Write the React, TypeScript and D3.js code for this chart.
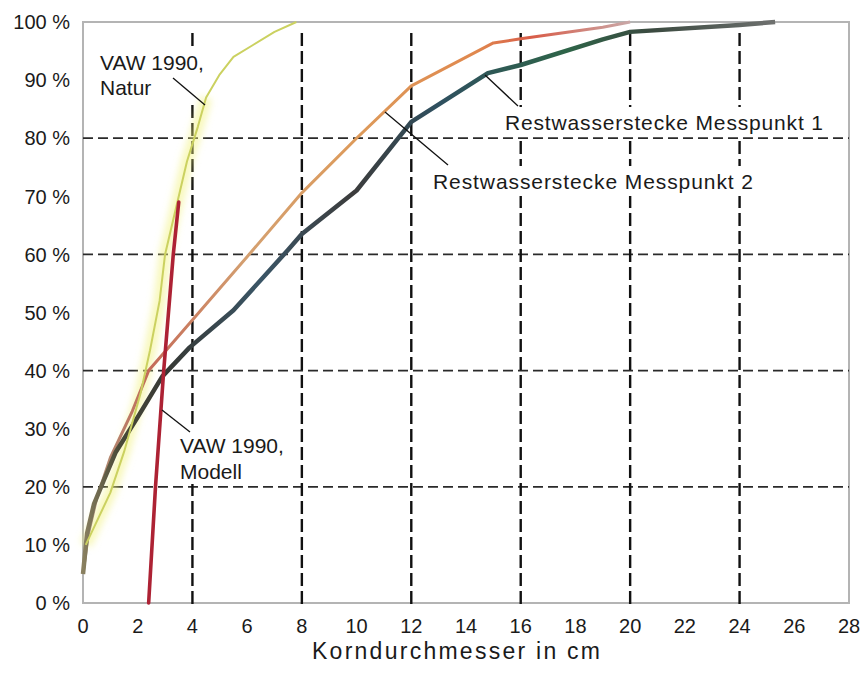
import React from "react";
import * as d3 from "d3";

const xTicks = [0, 2, 4, 6, 8, 10, 12, 14, 16, 18, 20, 22, 24, 26, 28];
const yTicks = [0, 10, 20, 30, 40, 50, 60, 70, 80, 90, 100];
const xGridLines = [4, 8, 12, 16, 20, 24];
const yGridLines = [20, 40, 60, 80];

const messpunkt1: [number, number][] = [
  [0, 5], [0.15, 12], [0.4, 17], [0.75, 21], [1.2, 26], [2.0, 32], [2.9, 39],
  [3.9, 44], [5.5, 50.4], [7.5, 60.8], [8, 63.5], [10, 71], [12, 82.8],
  [14.8, 91.2], [16, 92.6], [19, 97], [20, 98.3], [24, 99.5], [25.3, 100],
];
const messpunkt2: [number, number][] = [
  [0, 5], [0.2, 12], [0.5, 18], [1.0, 25], [1.8, 33], [2.4, 40], [4.0, 48.7],
  [6, 59.6], [8, 70.6], [10, 80], [12, 89], [15, 96.4], [16, 97.1], [19, 99.1], [20, 100],
];
const natur: [number, number][] = [
  [0.1, 10], [0.5, 14], [1.0, 19], [1.5, 26], [2.1, 36], [2.45, 43.5], [2.8, 52],
  [3.0, 60], [3.3, 66], [3.55, 71], [3.8, 76], [4.2, 82], [4.5, 87], [5.0, 91],
  [5.5, 94], [6.2, 96], [7.0, 98.3], [7.8, 100],
];
const modell: [number, number][] = [
  [2.4, 0], [2.65, 20], [2.95, 40], [3.3, 60], [3.5, 69],
];

const W = 867;
const H = 679;
const left = 83;
const right = 849;
const top = 22;
const bottom = 603;

export default function App() {
  const x = d3.scaleLinear().domain([0, 28]).range([left, right]);
  const y = d3.scaleLinear().domain([0, 100]).range([bottom, top]);
  const line = d3.line<[number, number]>().x((d) => x(d[0])).y((d) => y(d[1]));
  const naturLow = natur.filter((d) => d[0] <= 4.6);
  const font = "'Liberation Sans', Arial, sans-serif";

  return (
    <svg
      width={W}
      height={H}
      style={{ position: "absolute", left: 0, top: 0, background: "#fff" }}
      fontFamily={font}
    >
      <defs>
        <filter id="glow" x="-50%" y="-50%" width="200%" height="200%">
          <feGaussianBlur stdDeviation="3.5" />
        </filter>
        <linearGradient id="g1" gradientUnits="userSpaceOnUse" x1={x(0)} x2={x(26)} y1={0} y2={0}>
          <stop offset="0" stopColor="#8a8060" />
          <stop offset="0.05" stopColor="#4a4a38" />
          <stop offset="0.12" stopColor="#363834" />
          <stop offset="0.25" stopColor="#3a5566" />
          <stop offset="0.38" stopColor="#3c3c3c" />
          <stop offset="0.5" stopColor="#2f5060" />
          <stop offset="0.68" stopColor="#2e6448" />
          <stop offset="0.8" stopColor="#3b4a40" />
          <stop offset="1" stopColor="#777" />
        </linearGradient>
        <linearGradient id="g2" gradientUnits="userSpaceOnUse" x1={x(0)} x2={x(20)} y1={0} y2={0}>
          <stop offset="0" stopColor="#a89a80" />
          <stop offset="0.12" stopColor="#c46a58" />
          <stop offset="0.3" stopColor="#d4a070" />
          <stop offset="0.5" stopColor="#dd9a5a" />
          <stop offset="0.72" stopColor="#e0884e" />
          <stop offset="0.82" stopColor="#d85c48" />
          <stop offset="1" stopColor="#c9a8a8" />
        </linearGradient>
      </defs>

      {/* plot frame */}
      <rect
        x={left}
        y={top}
        width={right - left}
        height={bottom - top}
        fill="none"
        stroke="#b4b4b4"
        strokeWidth={2}
      />

      {/* horizontal grid */}
      {yGridLines.map((v) => (
        <line
          key={"h" + v}
          x1={left}
          x2={right}
          y1={y(v)}
          y2={y(v)}
          stroke="#2a2a2a"
          strokeWidth={1.8}
          strokeDasharray="10,5"
        />
      ))}
      {/* vertical grid */}
      {xGridLines.map((v) => (
        <line
          key={"v" + v}
          x1={x(v)}
          x2={x(v)}
          y1={33}
          y2={bottom + 6}
          stroke="#111"
          strokeWidth={2.4}
          strokeDasharray="13,5"
        />
      ))}

      {/* label backgrounds */}
      <rect x={97} y={46} width={114} height={56} fill="#fff" />
      <rect x={177} y={428} width={118} height={56} fill="#fff" />
      <rect x={500} y={107} width={330} height={29} fill="#fff" />
      <rect x={428} y={166} width={332} height={30} fill="#fff" />

      {/* curves */}
      <path
        d={line(naturLow) || ""}
        fill="none"
        stroke="#f2f27a"
        strokeOpacity={0.5}
        strokeWidth={12}
        filter="url(#glow)"
      />
      <path d={line(messpunkt2) || ""} fill="none" stroke="url(#g2)" strokeWidth={3} strokeLinejoin="round" />
      <path d={line(messpunkt1) || ""} fill="none" stroke="url(#g1)" strokeWidth={4.5} strokeLinejoin="round" />
      <path
        d={line(natur) || ""}
        fill="none"
        stroke="#cbd160"
        strokeWidth={2}
        strokeLinejoin="round"
      />
      <path
        d={line(modell) || ""}
        fill="none"
        stroke="#ad2234"
        strokeWidth={3.6}
        strokeLinecap="round"
      />

      {/* leader lines */}
      <g stroke="#111" strokeWidth={1.3}>
        <line x1={173} y1={78} x2={205} y2={105} />
        <line x1={162} y1={410} x2={190} y2={432} />
        <line x1={485} y1={75} x2={518} y2={106} />
        <line x1={385} y1={112} x2={448} y2={165} />
      </g>

      {/* annotation text */}
      <g fontSize={21} fill="#1a1a1a">
        <text x={100} y={70}>VAW 1990,</text>
        <text x={100} y={95}>Natur</text>
        <text x={180} y={453}>VAW 1990,</text>
        <text x={180} y={479}>Modell</text>
        <text x={505} y={130} textLength={318} lengthAdjust="spacing">
          Restwasserstecke Messpunkt 1
        </text>
        <text x={433} y={189} textLength={320} lengthAdjust="spacing">
          Restwasserstecke Messpunkt 2
        </text>
      </g>

      {/* y tick labels */}
      <g fontSize={20} fill="#1a1a1a" textAnchor="end">
        {yTicks.map((v) => (
          <text key={"yl" + v} x={70} y={y(v)} dy="0.36em">
            {v} %
          </text>
        ))}
      </g>
      {/* x tick labels */}
      <g fontSize={20} fill="#1a1a1a" textAnchor="middle">
        {xTicks.map((v) => (
          <text key={"xl" + v} x={x(v)} y={633}>
            {v}
          </text>
        ))}
      </g>
      <text
        x={312}
        y={659}
        fontSize={23}
        fill="#1a1a1a"
        textLength={288}
        lengthAdjust="spacing"
      >
        Korndurchmesser in cm
      </text>
    </svg>
  );
}
